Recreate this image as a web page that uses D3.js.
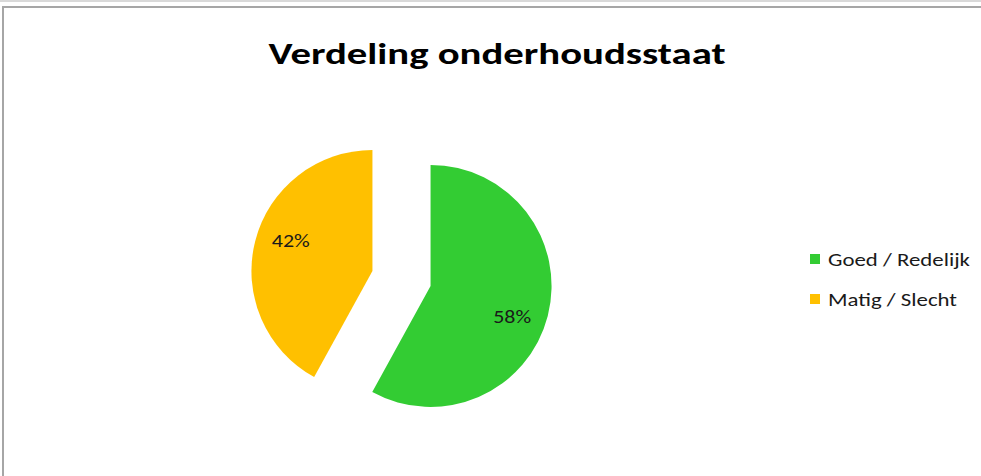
<!DOCTYPE html>
<html>
<head>
<meta charset="utf-8">
<script src="https://cdn.jsdelivr.net/npm/d3@7"></script>
<style>
  body { margin: 0; background: #fff; }
  svg { display: block; }
</style>
</head>
<body>
<svg id="chart" width="981" height="476"></svg>
<script>
// chart data
const categories = ["Goed / Redelijk", "Matig / Slecht"];
const values = [58, 42];
const labels = ["58%", "42%"];
const colors = ["#33CC33", "#FFC000"];

const svg = d3.select("#chart");
const font = "Carlito, 'Open Sans', 'Noto Sans', sans-serif";

// frame lines like the screenshot
svg.append("rect").attr("x", 0).attr("y", 0).attr("width", 981).attr("height", 2).attr("fill", "#d9d9d9");
svg.append("line").attr("x1", 2).attr("x2", 981).attr("y1", 7).attr("y2", 7)
  .attr("stroke", "#a6a6a6").attr("stroke-width", 2);
svg.append("line").attr("x1", 3).attr("x2", 3).attr("y1", 6).attr("y2", 476)
  .attr("stroke", "#a6a6a6").attr("stroke-width", 2);

// title
svg.append("text")
  .attr("x", 497).attr("y", 64)
  .attr("text-anchor", "middle")
  .style("font-family", font)
  .style("font-size", "31px")
  .style("font-weight", "bold")
  .attr("textLength", 457)
  .attr("lengthAdjust", "spacingAndGlyphs")
  .text("Verdeling onderhoudsstaat");

// pie
const cx = 401.5, cy = 278.5, radius = 121, explode = 30;
const pie = d3.pie().sort(null).value(d => d);
const arcs = pie(values);
const arc = d3.arc().innerRadius(0).outerRadius(radius);
const labelR = radius * 0.72, labelShift = 6 * Math.PI / 180;

const g = svg.append("g").attr("transform", `translate(${cx},${cy})`);

const slices = g.selectAll(".slice")
  .data(arcs)
  .enter()
  .append("g")
  .attr("class", "slice")
  .attr("transform", d => {
    const a = (d.startAngle + d.endAngle) / 2;
    return `translate(${Math.sin(a) * explode},${-Math.cos(a) * explode})`;
  });

slices.append("path")
  .attr("d", arc)
  .attr("fill", (d, i) => colors[i]);

slices.append("text")
  .attr("transform", d => {
    const a = (d.startAngle + d.endAngle) / 2 + labelShift;
    return `translate(${Math.sin(a) * labelR},${-Math.cos(a) * labelR})`;
  })
  .attr("text-anchor", "middle")
  .attr("dy", "0.35em")
  .style("font-family", font)
  .style("font-size", "18px")
  .style("fill", "#1a1a1a")
  .attr("textLength", 38)
  .attr("lengthAdjust", "spacingAndGlyphs")
  .text((d, i) => labels[i]);

// legend
const legendWidths = [142, 129];
const legend = svg.append("g").attr("transform", "translate(810,254)");
const items = legend.selectAll(".item")
  .data(categories)
  .enter()
  .append("g")
  .attr("class", "item")
  .attr("transform", (d, i) => `translate(0,${i * 40})`);

items.append("rect")
  .attr("width", 10).attr("height", 10)
  .attr("fill", (d, i) => colors[i]);

items.append("text")
  .attr("x", 18).attr("y", 12)
  .style("font-family", font)
  .style("font-size", "18px")
  .style("fill", "#1a1a1a")
  .attr("textLength", (d, i) => legendWidths[i])
  .attr("lengthAdjust", "spacingAndGlyphs")
  .text(d => d);
</script>
</body>
</html>
